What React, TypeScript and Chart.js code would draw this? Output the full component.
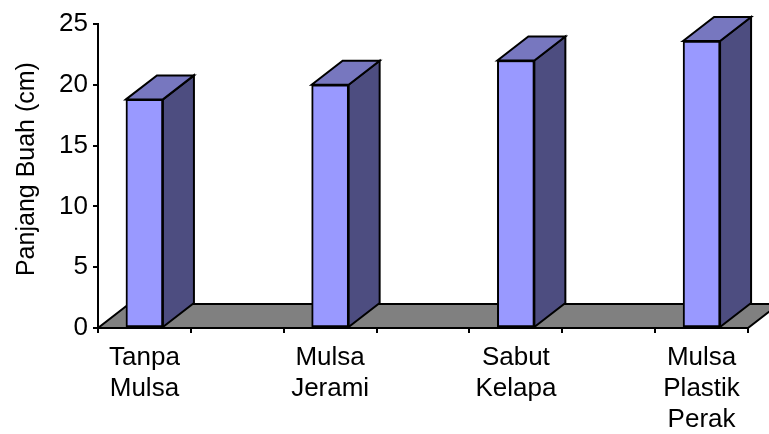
import React, { useEffect, useRef } from 'react';
import { Chart, registerables } from 'chart.js';

Chart.register(...registerables);

// ---- data ----
const CATEGORIES: string[][] = [
  ['Tanpa', 'Mulsa'],
  ['Mulsa', 'Jerami'],
  ['Sabut', 'Kelapa'],
  ['Mulsa', 'Plastik', 'Perak'],
];
const VALUES: number[] = [18.8, 20.0, 22.0, 23.6];
const Y_MIN = 0;
const Y_MAX = 25;
const Y_STEP = 5;
const Y_TITLE = 'Panjang Buah (cm)';

// ---- style ----
const W = 769;
const H = 434;
const FONT = '"Liberation Sans", Arial, sans-serif';
const FONT_SIZE = 25;
const LABEL_SIZE = 26;
const DEPTH_X = 31;
const DEPTH_Y = 24;
const FRONT = '#9999FF';
const TOP = '#7777BF';
const SIDE = '#4D4D80';
const FLOOR = '#808080';

// ticks on the category axis: half-category boundaries plus label positions
const X_TICKS: number[] = [];
CATEGORIES.forEach((_, i) => {
  X_TICKS.push(i - 0.25, i, i + 0.25);
});

function poly(ctx: CanvasRenderingContext2D, pts: number[][], fill: string) {
  ctx.beginPath();
  ctx.moveTo(pts[0][0], pts[0][1]);
  for (let i = 1; i < pts.length; i++) ctx.lineTo(pts[i][0], pts[i][1]);
  ctx.closePath();
  ctx.fillStyle = fill;
  ctx.fill();
  ctx.stroke();
}

const box3d = {
  id: 'box3d',
  beforeDatasetsDraw(chart: any) {
    const { ctx, chartArea } = chart;
    const { left, right, bottom } = chartArea;
    ctx.save();
    ctx.lineWidth = 2;
    ctx.strokeStyle = '#000';
    ctx.lineJoin = 'miter';
    poly(
      ctx,
      [
        [left, bottom],
        [right, bottom],
        [right + DEPTH_X, bottom - DEPTH_Y],
        [left + DEPTH_X, bottom - DEPTH_Y],
      ],
      FLOOR
    );
    ctx.restore();
  },
  afterDatasetsDraw(chart: any) {
    const { ctx } = chart;
    const meta = chart.getDatasetMeta(0);
    ctx.save();
    ctx.lineWidth = 2;
    ctx.strokeStyle = '#000';
    ctx.lineJoin = 'miter';
    meta.data.forEach((bar: any) => {
      const { x, y, base, width } = bar.getProps(['x', 'y', 'base', 'width'], true);
      const l = x - width / 2;
      const r = x + width / 2;
      poly(
        ctx,
        [
          [r, y],
          [r + DEPTH_X, y - DEPTH_Y],
          [r + DEPTH_X, base - DEPTH_Y],
          [r, base],
        ],
        SIDE
      );
      poly(
        ctx,
        [
          [l, y],
          [l + DEPTH_X, y - DEPTH_Y],
          [r + DEPTH_X, y - DEPTH_Y],
          [r, y],
        ],
        TOP
      );
    });
    ctx.restore();
  },
};

export default function App() {
  const ref = useRef<HTMLCanvasElement | null>(null);

  useEffect(() => {
    document.body.style.margin = '0';
    const canvas = ref.current;
    if (!canvas) return;
    const chart = new Chart(canvas, {
      type: 'bar',
      data: {
        datasets: [
          {
            data: VALUES.map((v, i) => ({ x: i, y: v })),
            backgroundColor: FRONT,
            borderColor: '#000',
            borderWidth: 2,
            borderSkipped: false,
            barThickness: 37,
          } as any,
        ],
      },
      options: {
        responsive: false,
        animation: false,
        devicePixelRatio: 1,
        layout: { padding: { top: 24, right: 21, left: 0, bottom: 0 } },
        plugins: {
          legend: { display: false },
          tooltip: { enabled: false },
        },
        scales: {
          x: {
            type: 'linear',
            offset: false,
            bounds: 'data',
            min: -0.25,
            max: CATEGORIES.length - 0.75,
            afterBuildTicks: (scale: any) => {
              scale.ticks = X_TICKS.map((v) => ({ value: v }));
            },
            afterFit: (scale: any) => {
              scale.height = 106;
            },
            grid: {
              offset: false,
              drawOnChartArea: false,
              drawTicks: true,
              tickLength: 5,
              tickWidth: 2,
              lineWidth: 2,
              tickColor: (c: any) =>
                c.tick && Number.isInteger(c.tick.value) ? 'rgba(0,0,0,0)' : '#000',
            },
            border: { display: true, color: '#000', width: 2 },
            ticks: {
              autoSkip: false,
              maxRotation: 0,
              minRotation: 0,
              padding: 9,
              color: '#000',
              font: { family: FONT, size: LABEL_SIZE, lineHeight: 1.2 },
              callback: (v: any) =>
                Number.isInteger(v) && CATEGORIES[v] ? CATEGORIES[v] : '',
            },
          },
          y: {
            min: Y_MIN,
            max: Y_MAX,
            afterFit: (scale: any) => {
              scale.width = 98;
            },
            grid: {
              drawOnChartArea: false,
              drawTicks: true,
              tickLength: 5,
              tickWidth: 2,
              lineWidth: 2,
              tickColor: '#000',
            },
            border: { display: true, color: '#000', width: 2 },
            ticks: {
              stepSize: Y_STEP,
              padding: 5,
              color: '#000',
              font: { family: FONT, size: LABEL_SIZE },
            },
            title: {
              display: true,
              text: '  ' + Y_TITLE,
              color: '#000',
              font: { family: FONT, size: FONT_SIZE },
              padding: { top: 12, bottom: 0 },
            },
          },
        },
      } as any,
      plugins: [box3d],
    });
    return () => chart.destroy();
  }, []);

  return (
    <div style={{ width: W, height: H }}>
      <canvas ref={ref} width={W} height={H} style={{ display: 'block' }} />
    </div>
  );
}
